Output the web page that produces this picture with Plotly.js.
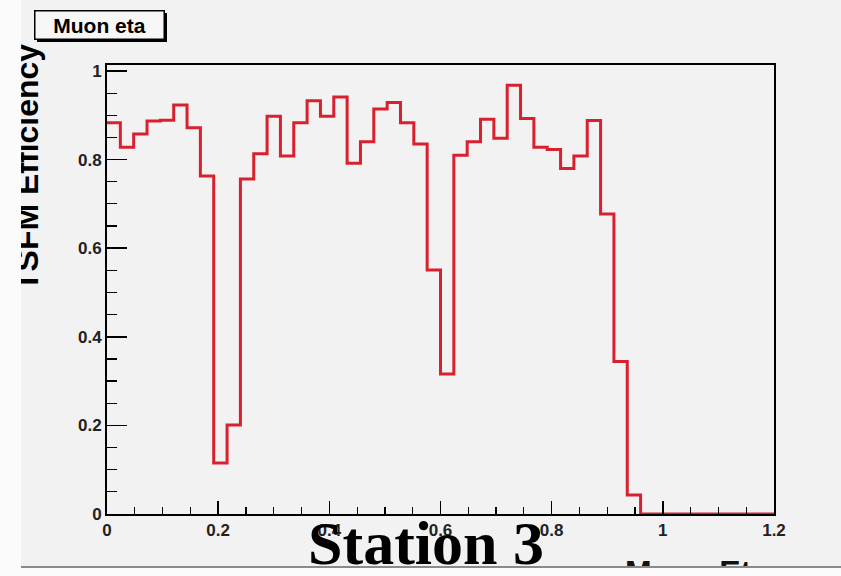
<!DOCTYPE html>
<html>
<head>
<meta charset="utf-8">
<script src="https://cdn.plot.ly/plotly-3.0.1.min.js"></script>
<style>
  html, body { margin: 0; padding: 0; background: #fbfbfb; width: 841px; height: 576px; overflow: hidden; }
  #plot { position: absolute; left: 21px; top: 0px; width: 820px; height: 566px; border-bottom: 2px solid #8a8a8a; overflow: hidden; }
</style>
</head>
<body>
<div id="plot"></div>
<script>
// Histogram "Muon eta": 50 bins from 0 to 1.2
const binLow = 0.0;
const binWidth = 0.024;
const efficiency = [
  0.883, 0.828, 0.858, 0.887, 0.889, 0.923, 0.872, 0.763, 0.115, 0.201,
  0.756, 0.813, 0.898, 0.808, 0.883, 0.933, 0.898, 0.941, 0.792, 0.840,
  0.914, 0.929, 0.883, 0.835, 0.551, 0.316, 0.810, 0.840, 0.891, 0.848,
  0.968, 0.893, 0.828, 0.823, 0.780, 0.808, 0.888, 0.677, 0.344, 0.043,
  0, 0, 0, 0, 0, 0, 0, 0, 0, 0
];
const xTickVals = [0, 0.2, 0.4, 0.6, 0.8, 1, 1.2];
const xTickText = ['0', '0.2', '0.4', '0.6', '0.8', '1', '1.2'];
const yTickVals = [0, 0.2, 0.4, 0.6, 0.8, 1];
const yTickText = ['0', '0.2', '0.4', '0.6', '0.8', '1'];
const histTitle = 'Muon eta';
const xTitle = 'Muon Eta';
const yTitle = 'TSFM Efficiency';
const caption = 'Station 3';

// step-line points: left edge of each bin, plus closing right edge
const xs = [], ys = [];
for (let i = 0; i < efficiency.length; i++) {
  xs.push(binLow + i * binWidth);
  ys.push(efficiency[i]);
}
xs.push(binLow + efficiency.length * binWidth);
ys.push(efficiency[efficiency.length - 1]);

const divLeft = 21;
const W = 820, H = 566;
const mL = 107 - divLeft, mR = W - (774 - divLeft), mT = 65, mB = H - 514;
const pw = W - mL - mR, ph = H - mT - mB;
const px = v => (v - divLeft - mL) / pw;   // page px -> paper x
const py = v => (H - mB - v) / ph;         // page px -> paper y

const tickFont = {family: 'Liberation Sans, Arial, sans-serif', size: 17, color: '#222', weight: 'bold'};

const layout = {
  width: W, height: H,
  margin: {l: mL, r: mR, t: mT, b: mB, pad: 0},
  paper_bgcolor: '#f2f2f2',
  plot_bgcolor: '#f2f2f2',
  showlegend: false,
  xaxis: {
    range: [0, 1.2], tickmode: 'array', tickvals: xTickVals, ticktext: xTickText,
    ticks: 'inside', ticklen: 13, tickwidth: 1.5, tickcolor: '#000',
    minor: {dtick: 0.05, ticks: 'inside', ticklen: 7, tickwidth: 1.2, tickcolor: '#000', showgrid: false},
    showline: true, linecolor: '#000', linewidth: 2, mirror: true,
    showgrid: false, zeroline: false, tickfont: tickFont, fixedrange: true
  },
  yaxis: {
    range: [0, 1.0135], tickmode: 'array', tickvals: yTickVals, ticktext: yTickText,
    ticks: 'inside', ticklen: 20, tickwidth: 1.5, tickcolor: '#000',
    minor: {dtick: 0.05, ticks: 'inside', ticklen: 10, tickwidth: 1.2, tickcolor: '#000', showgrid: false},
    showline: true, linecolor: '#000', linewidth: 2, mirror: true,
    showgrid: false, zeroline: false, tickfont: tickFont, fixedrange: true
  },
  shapes: [
    // shadow of the title box
    {type: 'rect', xref: 'paper', yref: 'paper',
     x0: px(37), x1: px(167), y0: py(42), y1: py(13),
     fillcolor: '#000', line: {width: 0}, layer: 'below'}
  ],
  annotations: [
    {xref: 'paper', yref: 'paper', x: px(99), y: py(25), xanchor: 'center', yanchor: 'middle',
     text: histTitle, showarrow: false,
     font: {family: 'Liberation Sans, Arial, sans-serif', size: 21, color: '#000', weight: 'bold'},
     bgcolor: '#f7f7f7', bordercolor: '#000', borderwidth: 1.5, width: 128, height: 27, borderpad: 0},
    {xref: 'paper', yref: 'paper', x: px(47), y: py(167), xanchor: 'right', yanchor: 'middle',
     text: yTitle, textangle: -90, showarrow: false,
     font: {family: 'Liberation Sans, Arial, sans-serif', size: 32, color: '#000', weight: 'bold'}},
    {xref: 'paper', yref: 'paper', x: px(426), y: py(543), xanchor: 'center', yanchor: 'middle',
     text: caption, showarrow: false,
     font: {family: 'Liberation Serif, Times New Roman, serif', size: 62, color: '#000', weight: 'bold'}},
    {xref: 'paper', yref: 'paper', x: px(771), y: py(572), xanchor: 'right', yanchor: 'middle',
     text: xTitle, showarrow: false,
     font: {family: 'Liberation Sans, Arial, sans-serif', size: 32, color: '#111', weight: 'bold'}}
  ]
};

const trace = {
  type: 'scatter', mode: 'lines', x: xs, y: ys,
  line: {shape: 'hv', color: '#d8202e', width: 3},
  hoverinfo: 'skip', cliponaxis: true
};

Plotly.newPlot('plot', [trace], layout, {staticPlot: true, displayModeBar: false});
</script>
</body>
</html>
